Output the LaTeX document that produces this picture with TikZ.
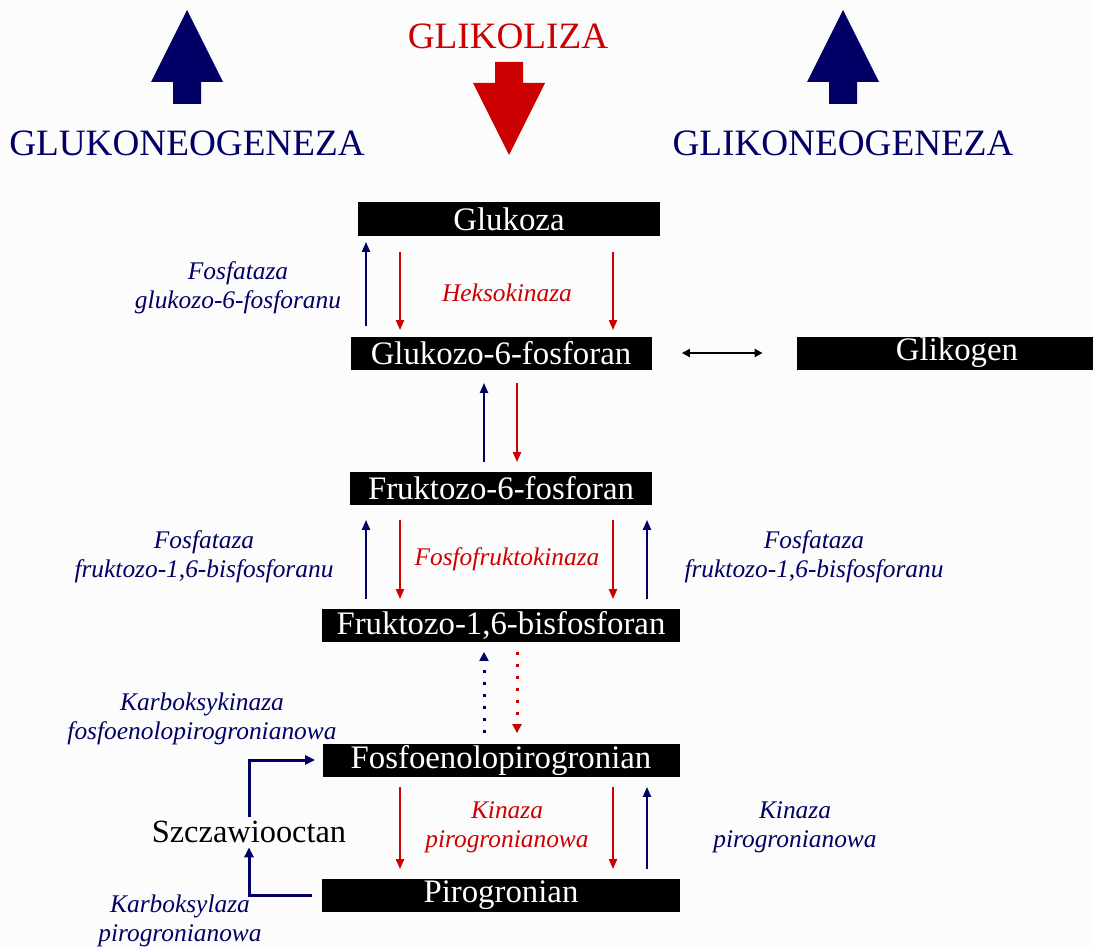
\documentclass[tikz,border=0pt]{standalone}
\usepackage{fontspec}
\setmainfont{Liberation Serif}
\usetikzlibrary{arrows.meta, calc, positioning}
\definecolor{Navy}  {HTML}{000066}
\definecolor{Crim}  {HTML}{CC0000}
\definecolor{Paper} {HTML}{FCFCFC}
\tikzset{
  bx/.style={
    rectangle, fill=black, text=white,
    font=\fontsize{16.4}{18}\selectfont,
    inner sep=0pt, minimum height=16.5pt,
  },
  head/.style={
    font=\fontsize{18.6}{21}\selectfont, inner sep=0pt,
  },
  enz/.style={
    font=\fontsize{12.7}{14.5}\selectfont\itshape,
    align=center, inner sep=0pt,
  },
  % thin reaction arrows
  rx/.style args={#1}{
    -{Triangle[length=5pt,width=4pt]},
    line width=1pt, color=#1,
    shorten <=5pt, shorten >=3pt,
  },
  dots/.style args={#1}{
    -{Triangle[length=4.5pt,width=4.5pt]},
    line width=1.5pt, color=#1,
    dash pattern=on 1.5pt off 4.5pt,
    shorten <=5pt, shorten >=5pt,
  },
  elb/.style={
    -{Triangle[length=5pt,width=4.5pt]},
    line width=1.5pt, color=Navy,
  },
}

\begin{document}
\begin{tikzpicture}[x=0.5pt,y=-0.5pt]
  \useasboundingbox[fill=Paper] (0,0) rectangle (1093,947);

  % big direction arrows
  \foreach \cx in {187,843}{
    \fill[Navy] (\cx,10) -- (\cx+36,82) -- (\cx+14,82) -- (\cx+14,104)
      -- (\cx-14,104) -- (\cx-14,82) -- (\cx-36,82) -- cycle;
  }
  \fill[Crim] (509,155) -- (545,83) -- (523,83) -- (523,62)
    -- (495,62) -- (495,83) -- (473,83) -- cycle;

  \node[head, text=Navy] (gng)  at (187,143) {GLUKONEOGENEZA};
  \node[head, text=Crim] (glk)  at (508,36)  {GLIKOLIZA};
  \node[head, text=Navy] (glyn) at (843,143) {GLIKONEOGENEZA};

  % metabolites
  \node[bx, minimum width=151pt]   (glukoza)  at (509,219) {Glukoza};
  \node[bx, minimum width=150.5pt] (g6p)      at (501,353) {Glukozo-6-fosforan};
  \node[bx, minimum width=148pt]   (glikogen) at (945,353) {\hspace*{12pt}Glikogen};
  \node[bx, minimum width=151pt]   (f6p)      at (501,488) {Fruktozo-6-fosforan};
  \node[bx, minimum width=179pt]   (f16bp)    at (501,625) {Fruktozo-1,6-bisfosforan};
  \node[bx, minimum width=178.5pt] (pep)      at (501,760) {Fosfoenolopirogronian};
  \node[bx, minimum width=179pt]   (pyr)      at (501,895) {Pirogronian};
  \node[font=\fontsize{16.2}{18}\selectfont, inner sep=2pt] (oaa) at (249,832)
    {Szczawiooctan};

  % arrow columns
  \coordinate (cA) at (366,0);
  \coordinate (cB) at (400,0);
  \coordinate (cC) at (613,0);
  \coordinate (cD) at (647,0);
  \coordinate (cE) at (484,0);
  \coordinate (cF) at (517,0);

  \draw[rx=Navy] (g6p.north -| cA) -- (glukoza.south -| cA);
  \draw[rx=Crim, shorten <=8pt] (glukoza.south -| cB) -- (g6p.north -| cB);
  \draw[rx=Crim, shorten <=8pt] (glukoza.south -| cC) -- (g6p.north -| cC);

  \draw[rx=Navy, shorten <=4.5pt, shorten >=6.5pt] (f6p.north -| cE) -- (g6p.south -| cE);
  \draw[rx=Crim, shorten <=6.5pt, shorten >=4.5pt] (g6p.south -| cF) -- (f6p.north -| cF);

  \foreach \c/\up in {cA/1,cB/0,cC/0,cD/1}{
    \ifnum\up=1
      \draw[rx=Navy, shorten <=4.5pt, shorten >=7.5pt] (f16bp.north -| \c) -- (f6p.south -| \c);
    \else
      \draw[rx=Crim, shorten <=7.5pt, shorten >=4.5pt] (f6p.south -| \c) -- (f16bp.north -| \c);
    \fi
  }

  \draw[dots=Navy] (pep.north -| cE) -- (f16bp.south -| cE);
  \draw[dots=Crim] (f16bp.south -| cF) -- (pep.north -| cF);

  \draw[rx=Crim, shorten >=4.5pt] (pep.south -| cB) -- (pyr.north -| cB);
  \draw[rx=Crim, shorten >=4.5pt] (pep.south -| cC) -- (pyr.north -| cC);
  \draw[rx=Navy, shorten <=4.5pt, shorten >=5pt] (pyr.north -| cD) -- (pep.south -| cD);

  \draw[{Triangle[length=4pt,width=4pt]}-{Triangle[length=4pt,width=4pt]},
        line width=1pt, shorten <=15pt, shorten >=17pt] (g6p.east) -- (glikogen.west);

  % anaplerotic bypass
  \draw[elb, shorten <=5pt] (pyr.west) -| (oaa.south);
  \draw[elb, shorten >=3.5pt] (oaa.north) |- (pep.west);

  % enzymes
  \node[enz, text=Navy] (e1) at (238,288) {Fosfataza\\glukozo-6-fosforanu};
  \node[enz, text=Crim] (e2) at (507,293) {Heksokinaza};
  \node[enz, text=Navy] (e3) at (204,557) {Fosfataza\\fruktozo-1,6-bisfosforanu};
  \node[enz, text=Crim] (e4) at (507,559) {Fosfofruktokinaza};
  \node[enz, text=Navy] (e5) at (814,557) {Fosfataza\\fruktozo-1,6-bisfosforanu};
  \node[enz, text=Navy] (e6) at (202,719) {Karboksykinaza\\fosfoenolopirogronianowa};
  \node[enz, text=Crim] (e7) at (507,827) {Kinaza\\pirogronianowa};
  \node[enz, text=Navy] (e8) at (795,827) {Kinaza\\pirogronianowa};
  \node[enz, text=Navy] (e9) at (180,921) {Karboksylaza\\pirogronianowa};
\end{tikzpicture}
\end{document}
